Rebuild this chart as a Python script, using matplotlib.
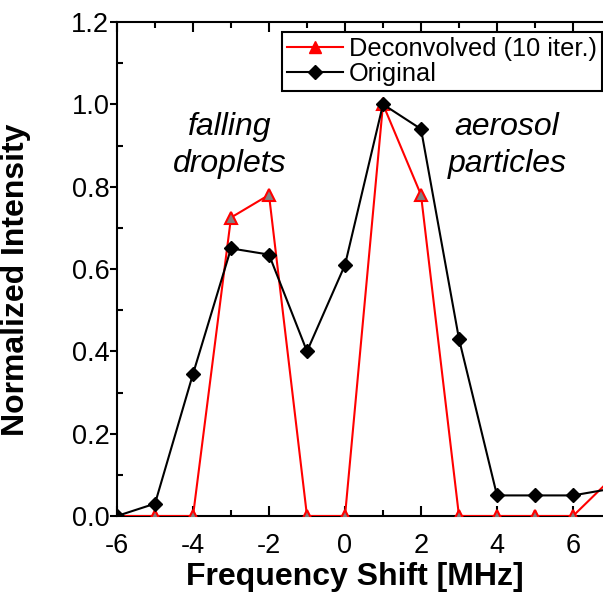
import matplotlib
matplotlib.use("Agg")
import matplotlib.pyplot as plt
from matplotlib.lines import Line2D
from matplotlib.ticker import MultipleLocator, FormatStrFormatter

plt.rcParams['font.family'] = ['Liberation Sans', 'DejaVu Sans']
plt.rcParams['axes.unicode_minus'] = False

# Frequency shift bins [MHz]
freq = [-6, -5, -4, -3, -2, -1, 0, 1, 2, 3, 4, 5, 6, 7]
original = [0.0, 0.03, 0.345, 0.65, 0.635, 0.40, 0.61, 1.0, 0.94, 0.43, 0.05, 0.05, 0.05, 0.066]
deconvolved = [0.0, 0.0, 0.0, 0.725, 0.78, 0.0, 0.0, 1.0, 0.78, 0.0, 0.0, 0.0, 0.0, 0.09]

fig = plt.figure(figsize=(6.03, 5.96), dpi=100)
ax = fig.add_axes([117 / 603, 80 / 596, (611 - 117) / 603, 494 / 596])

ax.plot(freq, deconvolved, color='red', lw=1.5, marker='^', ms=8,
        mfc='#808080', mec='red', mew=1.5, zorder=3)
ax.plot(freq, original, color='black', lw=1.5, marker='D', ms=7,
        mfc='black', mec='black', zorder=4)

ax.set_xlim(-6, 7)
ax.set_ylim(0, 1.2)
ax.xaxis.set_major_locator(MultipleLocator(2))
ax.xaxis.set_minor_locator(MultipleLocator(1))
ax.yaxis.set_major_locator(MultipleLocator(0.2))
ax.yaxis.set_minor_locator(MultipleLocator(0.1))
ax.yaxis.set_major_formatter(FormatStrFormatter('%.1f'))

for s in ax.spines.values():
    s.set_linewidth(1.5)

ax.tick_params(axis='x', which='both', direction='in', top=True, labelsize=19.5,
               width=1.5, pad=12)
ax.tick_params(axis='x', which='major', length=7)
ax.tick_params(axis='x', which='minor', length=4)
ax.tick_params(axis='y', which='major', direction='out', length=5, width=1.5,
               labelsize=19.5, pad=0.5)
ax.tick_params(axis='y', which='minor', direction='in', length=4, width=1.5)

ax.set_xlabel('Frequency Shift [MHz]', fontsize=23, fontweight='bold')
ax.set_ylabel('Normalized Intensity', fontsize=23, fontweight='bold')
ax.xaxis.set_label_coords(0.482, -0.093)
ax.yaxis.set_label_coords(-0.175, 0.478)

ax.text(-3.03, 0.9, 'falling\ndroplets', fontsize=23, style='italic',
        ha='center', va='center', linespacing=1.3)
ax.text(4.26, 0.9, 'aerosol\nparticles', fontsize=23, style='italic',
        ha='center', va='center', linespacing=1.3)

handles = [
    Line2D([], [], color='red', lw=1.5, marker='^', ms=8, mfc='red', mec='red'),
    Line2D([], [], color='black', lw=1.5, marker='D', ms=7, mfc='black', mec='black'),
]
leg = ax.legend(handles, ['Deconvolved (10 iter.)', 'Original'],
                loc='upper right', bbox_to_anchor=((602 - 117) / 494, 0.98),
                fontsize=18.3, frameon=True, fancybox=False, edgecolor='black',
                framealpha=1, borderpad=0.2, labelspacing=0.05, handlelength=2.2,
                handletextpad=0.25, borderaxespad=0.0)
leg.get_frame().set_linewidth(1.5)

fig.savefig('out.png', dpi=100)
